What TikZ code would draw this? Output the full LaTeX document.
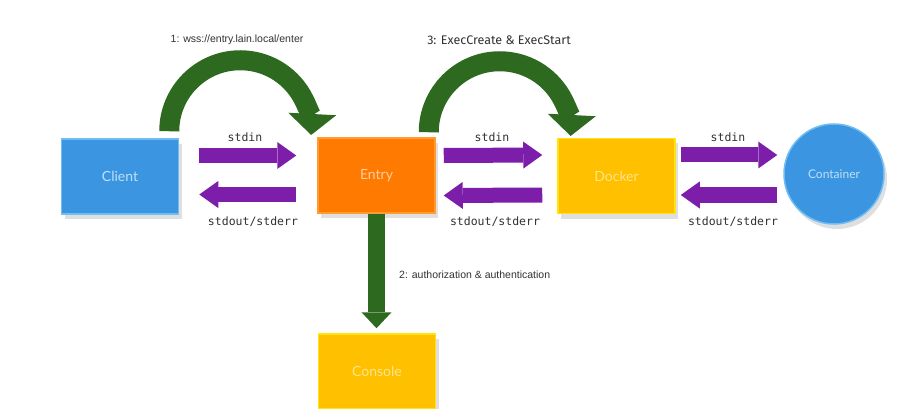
\documentclass[tikz,border=0pt]{standalone}
\usepackage{fontspec}
\setmainfont{Liberation Sans}
\newfontfamily\monof{DejaVu Sans Mono}
\newfontfamily\boxf{Lato}
\newfontfamily\firaf{Fira Sans}
\usetikzlibrary{arrows.meta,shadows,calc}
\definecolor{cblue}{RGB}{59,149,224}
\definecolor{cblueedge}{RGB}{110,190,245}
\definecolor{cbluetext}{RGB}{190,225,248}
\definecolor{corange}{RGB}{255,122,0}
\definecolor{corangeedge}{RGB}{255,155,50}
\definecolor{corangetext}{RGB}{255,205,160}
\definecolor{cyellow}{RGB}{255,192,0}
\definecolor{cyellowedge}{RGB}{255,228,20}
\definecolor{cyellowtext}{RGB}{255,228,140}
\definecolor{cpurple}{RGB}{125,30,170}
\definecolor{cgreen}{RGB}{45,105,30}
\definecolor{ctext}{RGB}{50,50,50}
\begin{document}
\begin{tikzpicture}[x=1pt,y=-1pt,
  box/.style={rectangle, minimum width=117pt, minimum height=75pt, inner sep=0pt,
    line width=1.5pt, drop shadow={shadow xshift=3pt, shadow yshift=-5pt, opacity=0.25},
    font=\boxf\fontsize{14}{16}\selectfont},
  roundbox/.style={circle, minimum size=100pt, inner sep=0pt, line width=1.5pt,
    drop shadow={shadow xshift=3pt, shadow yshift=-5pt, opacity=0.25},
    font=\boxf\fontsize{12}{14}\selectfont},
  parr/.style={draw=cpurple, line width=15pt, -{Triangle[length=19pt,width=27pt,line width=0pt]}},
  garr/.style={draw=cgreen, line width=20pt, -{Triangle[length=21pt,width=48pt,line width=0pt]}},
  vgarr/.style={draw=cgreen, line width=17pt, -{Triangle[length=16pt,width=30pt,line width=0pt]}},
  monolab/.style={font=\monof\fontsize{11.5}{13}\selectfont, text=ctext, inner sep=0pt},
  steplab/.style={font=\fontsize{10.5}{12}\selectfont, text=ctext, inner sep=0pt}
]
\useasboundingbox (0,0) rectangle (908,409);
\fill[white] (0,0) rectangle (908,409);

% nodes
\node[box, fill=cblue, draw=cblueedge, text=cbluetext] (client) at (120,176.5) {Client};
\node[box, fill=corange, draw=corangeedge, text=corangetext] (entry) at (376.5,175.5) {Entry};
\node[box, fill=cyellow, draw=cyellowedge, text=cyellowtext] (docker) at (616.5,176) {Docker};
\node[box, fill=cyellow, draw=cyellowedge, text=cyellowtext] (console) at (377,371.5) {Console};
\node[roundbox, fill=cblue, draw=cblueedge, text=cbluetext] (container) at (834,174) {Container};

% curved green arrows
\draw[garr] ($(client.north east)+(-10,-7)$) arc[start angle=180, end angle=363, radius=71];
\draw[garr] ($(entry.north east)+(-7,-5)$) arc[start angle=180, end angle=363, radius=71];
% vertical green arrow
\draw[vgarr] (entry.south) -- ($(entry.south |- console.north)+(0,-5)$);

% purple arrows
\draw[parr] ($(client.east)+(20,-21)$) -- ($(entry.west)+(-21,-20)$);
\draw[parr] ($(entry.west)+(-21,19)$) -- ($(client.east)+(20,18)$);
\draw[parr] ($(entry.east)+(8,-20)$) -- ($(docker.west)+(-15,-21)$);
\draw[parr] ($(docker.west)+(-15,19)$) -- ($(entry.east)+(8,20)$);
\draw[parr] ($(docker.east)+(5,-21)$) -- ($(container.west)+(-6,-19)$);
\draw[parr] ($(container.west)+(-6,21)$) -- ($(docker.east)+(5,19)$);

% labels
\node[monolab] (in1) at (245,137) {stdin};
\node[monolab] (out1) at (253,222) {stdout/stderr};
\node[monolab] (in2) at (492,137) {stdin};
\node[monolab] (out2) at (495,222) {stdout/stderr};
\node[monolab] (in3) at (728,137) {stdin};
\node[monolab] (out3) at (733,222) {stdout/stderr};

\node[steplab] (l1) at (237,40) {1: wss://entry.lain.local/enter};
\node[steplab, font=\firaf\fontsize{12.5}{14}\selectfont] (l3) at (499,40) {3: ExecCreate \& ExecStart};
\node[steplab, anchor=west] (l2) at (399,275) {2: authorization \& authentication};
\end{tikzpicture}
\end{document}
